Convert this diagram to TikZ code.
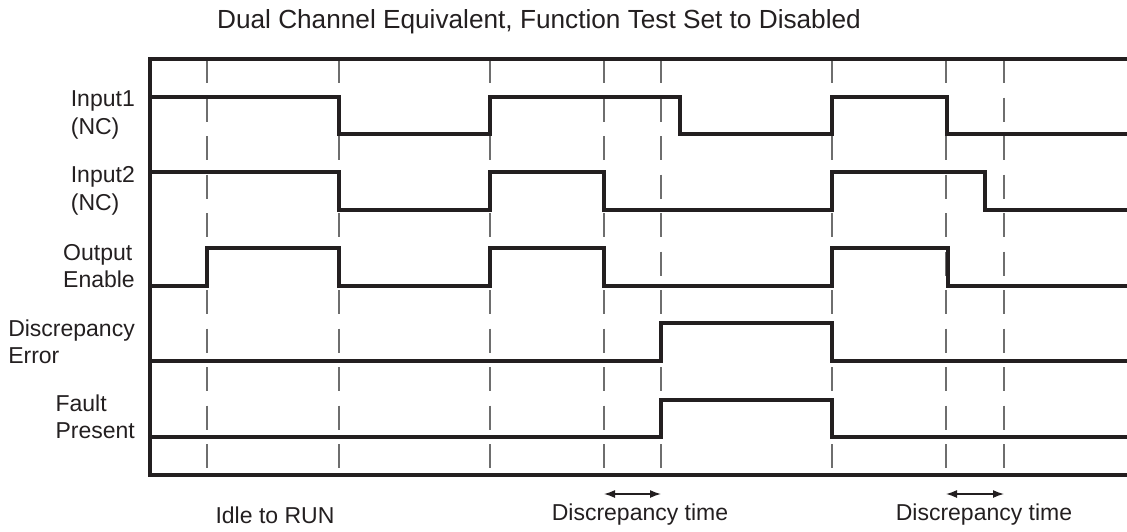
\documentclass[tikz,border=0pt]{standalone}
\usepackage{fontspec}
\setmainfont{Liberation Sans}
\usetikzlibrary{arrows.meta}
\definecolor{ink}{RGB}{35,31,32}
\definecolor{dashgray}{RGB}{110,110,110}
\begin{document}
\begin{tikzpicture}[x=1pt,y=-1pt,
  sig/.style={line width=4pt, line join=miter, draw=ink},
  gridline/.style={line width=2pt, draw=dashgray, dash pattern=on 24pt off 14.5pt},
  lbl/.style={font=\fontsize{23}{27.5}\selectfont, align=left, anchor=east, inner sep=0pt, text=ink},
  txt/.style={font=\fontsize{23}{27.5}\selectfont, inner sep=0pt, text=ink},
  dim/.style={line width=1.4pt, draw=ink, {Latex[length=11pt,width=8pt]}-{Latex[length=11pt,width=8pt]}}]
\useasboundingbox (0,0) rectangle (1127,531);

% title
\node[txt, font=\fontsize{26.2}{30}\selectfont] (title) at (539,22) {Dual Channel Equivalent, Function Test Set to Disabled};

% dashed time markers
\foreach \x in {207,339,490,604,661,832,946,1004}
  \draw[gridline] (\x,59) -- (\x,475);

% frame
\draw[sig] (1127,59) -- (150,59) -- (150,475) -- (1127,475);

% Input1
\draw[sig] (150,97) -- (339,97) -- (339,134) -- (490,134) -- (490,97) -- (680,97) -- (680,134)
  -- (832,134) -- (832,97) -- (947,97) -- (947,134) -- (1127,134);
% Input2
\draw[sig] (150,172) -- (339,172) -- (339,210) -- (490,210) -- (490,172) -- (604,172) -- (604,210)
  -- (832,210) -- (832,172) -- (985,172) -- (985,210) -- (1127,210);
% Output Enable
\draw[sig] (150,286) -- (207,286) -- (207,248) -- (339,248) -- (339,286) -- (490,286) -- (490,248)
  -- (604,248) -- (604,286) -- (832,286) -- (832,248) -- (948,248) -- (948,286) -- (1127,286);
% Discrepancy Error
\draw[sig] (150,361) -- (661,361) -- (661,323) -- (832,323) -- (832,361) -- (1127,361);
% Fault Present
\draw[sig] (150,437) -- (661,437) -- (661,400) -- (832,400) -- (832,437) -- (1127,437);

% signal labels
\node[lbl] (l1) at (135,115) {Input1\\(NC)};
\node[lbl] (l2) at (135,191) {Input2\\(NC)};
\node[lbl] (l3) at (135,266) {Output\\Enable};
\node[lbl] (l4) at (135,342) {Discrepancy\\Error};
\node[lbl] (l5) at (135,417) {Fault\\Present};

% discrepancy time arrows
\coordinate (a1) at (604,494);
\coordinate (b1) at (661,494);
\coordinate (a2) at (946,494);
\coordinate (b2) at (1004,494);
\draw[dim] (a1) -- (b1);
\draw[dim] (a2) -- (b2);

% bottom labels
\node[txt] (t1) at (275,515) {Idle to RUN};
\node[txt] (t2) at (640,515) {Discrepancy time};
\node[txt] (t3) at (984,515) {Discrepancy time};
\end{tikzpicture}
\end{document}
